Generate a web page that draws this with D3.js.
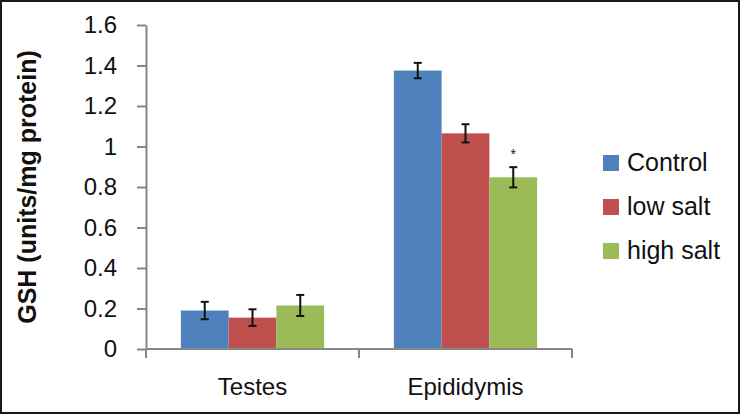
<!DOCTYPE html>
<html>
<head>
<meta charset="utf-8">
<script src="https://cdn.jsdelivr.net/npm/d3@7"></script>
<style>
  body { margin: 0; background: #fff; }
  text { font-family: "Liberation Sans", Arial, sans-serif; fill: #111; }
</style>
</head>
<body>
<div id="chart"></div>
<script>
// chart data
const categories = ["Testes", "Epididymis"];
const series = ["Control", "low salt", "high salt"];
const colors = ["#4F81BD", "#C0504D", "#9BBB59"];
const means = [
    [0.19, 0.155, 0.215],
    [1.375, 1.065, 0.848]
];
const errors = [
    [0.043, 0.041, 0.052],
    [0.038, 0.045, 0.05]
];
const marks = [
    ["", "", ""],
    ["", "", "*"]
];
const yTicks = [0, 0.2, 0.4, 0.6, 0.8, 1, 1.2, 1.4, 1.6];
const yTickLabels = ["0", "0.2", "0.4", "0.6", "0.8", "1", "1.2", "1.4", "1.6"];
const yTitle = "GSH (units/mg protein)";

const width = 741, height = 415;
const margin = {top: 25, right: 169, bottom: 66, left: 146};

const svg = d3.select("#chart").append("svg")
    .attr("width", width)
    .attr("height", height);

// outer frame
svg.append("rect")
    .attr("x", 1).attr("y", 1)
    .attr("width", width - 3).attr("height", height - 3)
    .attr("fill", "none")
    .attr("stroke", "#1a1a1a")
    .attr("stroke-width", 2);

const x0 = d3.scaleBand()
    .domain(categories)
    .range([margin.left, width - margin.right])
    .paddingInner(0).paddingOuter(0);

const x1 = d3.scaleBand()
    .domain(series)
    .range([0, x0.bandwidth()])
    .paddingInner(0).paddingOuter(0.73);

const y = d3.scaleLinear()
    .domain([0, 1.6])
    .range([height - margin.bottom, margin.top]);

// bars
const groups = svg.append("g").selectAll("g")
    .data(categories)
    .join("g")
    .attr("transform", d => `translate(${x0(d)},0)`);

groups.selectAll("rect")
    .data((c, i) => series.map((s, j) => ({s, j, v: means[i][j]})))
    .join("rect")
    .attr("x", d => x1(d.s))
    .attr("y", d => y(d.v))
    .attr("width", x1.bandwidth())
    .attr("height", d => y(0) - y(d.v))
    .attr("fill", d => colors[d.j]);

// error bars
const errG = groups.selectAll("g.err")
    .data((c, i) => series.map((s, j) => ({s, j, v: means[i][j], e: errors[i][j], m: marks[i][j]})))
    .join("g")
    .attr("class", "err")
    .attr("transform", d => `translate(${x1(d.s) + x1.bandwidth() / 2},0)`);

errG.append("line")
    .attr("y1", d => y(d.v + d.e)).attr("y2", d => y(d.v - d.e))
    .attr("stroke", "#111").attr("stroke-width", 2);
errG.selectAll("line.cap")
    .data(d => [d.v + d.e, d.v - d.e])
    .join("line")
    .attr("class", "cap")
    .attr("x1", -4).attr("x2", 4)
    .attr("y1", d => y(d)).attr("y2", d => y(d))
    .attr("stroke", "#111").attr("stroke-width", 2);

errG.filter(d => d.m)
    .append("text")
    .attr("y", d => y(d.v + d.e) - 8)
    .attr("text-anchor", "middle")
    .style("font-size", "14px")
    .text(d => d.m);

// y axis
const yAxis = svg.append("g")
    .attr("transform", `translate(${margin.left},0)`)
    .call(d3.axisLeft(y)
        .tickValues(yTicks)
        .tickFormat((d, i) => yTickLabels[i])
        .tickSize(9)
        .tickSizeOuter(0)
        .tickPadding(20));
yAxis.select(".domain").attr("stroke", "#868686").attr("stroke-width", 2);
yAxis.selectAll(".tick line").attr("stroke", "#868686").attr("stroke-width", 2);
yAxis.selectAll(".tick text")
    .style("font-size", "24px")
    .style("font-family", "'Liberation Sans', Arial, sans-serif")
    .attr("fill", "#111");

// x axis
const xAxisG = svg.append("g");
xAxisG.append("line")
    .attr("x1", x0.range()[0]).attr("x2", x0.range()[1])
    .attr("y1", y(0)).attr("y2", y(0))
    .attr("stroke", "#868686").attr("stroke-width", 2);
const bounds = categories.map(c => x0(c)).concat([x0.range()[1]]);
xAxisG.selectAll("line.tick")
    .data(bounds)
    .join("line")
    .attr("class", "tick")
    .attr("x1", d => d).attr("x2", d => d)
    .attr("y1", y(0)).attr("y2", y(0) + 9)
    .attr("stroke", "#868686").attr("stroke-width", 2);
xAxisG.selectAll("text")
    .data(categories)
    .join("text")
    .attr("x", d => x0(d) + x0.bandwidth() / 2)
    .attr("y", y(0) + 46)
    .attr("text-anchor", "middle")
    .style("font-size", "24px")
    .text(d => d);

// y title
svg.append("text")
    .attr("transform", `translate(36,${(y(0) + y(1.6)) / 2}) rotate(-90)`)
    .attr("text-anchor", "middle")
    .style("font-size", "25px")
    .style("font-weight", "bold")
    .text(yTitle);

// legend
const legend = svg.append("g")
    .attr("transform", "translate(603,163)");
const item = legend.selectAll("g")
    .data(series)
    .join("g")
    .attr("transform", (d, i) => `translate(0,${i * 44})`);
item.append("rect")
    .attr("x", 0).attr("y", -8)
    .attr("width", 16).attr("height", 16)
    .attr("fill", (d, i) => colors[i]);
item.append("text")
    .attr("x", 24).attr("y", 8)
    .style("font-size", "25px")
    .text(d => d);
</script>
</body>
</html>
